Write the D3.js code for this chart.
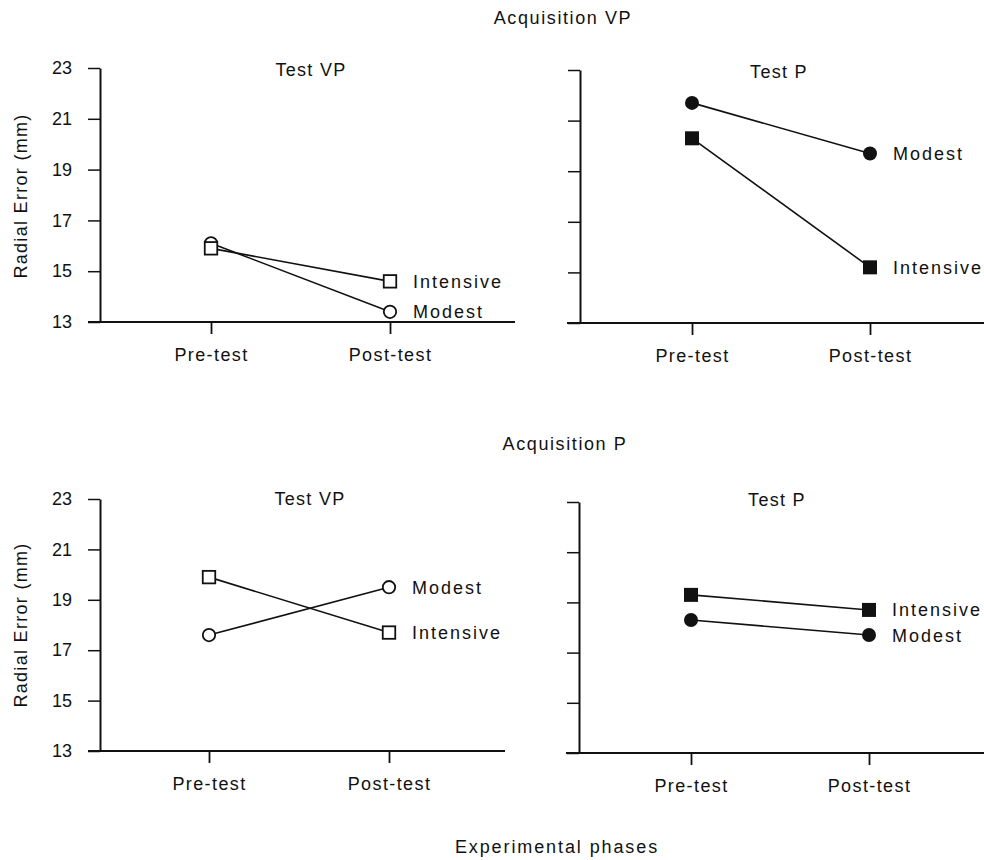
<!DOCTYPE html>
<html>
<head>
<meta charset="utf-8">
<script src="https://cdn.jsdelivr.net/npm/d3@7"></script>
<style>
  html, body { margin: 0; padding: 0; background: #fff; }
  svg { display: block; }
  text { font-family: "Liberation Sans", Arial, Helvetica, sans-serif; fill: #111; }
</style>
</head>
<body>
<svg id="chart" width="984" height="860"></svg>
<script>
// ---- data ----
const phases = ["Pre-test", "Post-test"];
const yTickValues = [13, 15, 17, 19, 21, 23];
const seriesNames = ["Intensive", "Modest"];
const rowTitles = ["Acquisition VP", "Acquisition P"];
const panelTitles = ["Test VP", "Test P"];

const acqVP_testVP_intensive = [15.9, 14.6];
const acqVP_testVP_modest    = [16.1, 13.4];
const acqVP_testP_intensive  = [20.3, 15.2];
const acqVP_testP_modest     = [21.7, 19.7];
const acqP_testVP_intensive  = [19.9, 17.7];
const acqP_testVP_modest     = [17.6, 19.5];
const acqP_testP_intensive   = [19.3, 18.7];
const acqP_testP_modest      = [18.3, 17.7];

const yLabel = "Radial Error (mm)";
const xLabel = "Experimental phases";

// ---- layout ----
const svg = d3.select("#chart");
const panels = [
  { title: panelTitles[0], ax: 100, top: 68, bot: 322, pre: 211, post: 390, xl: 88, xr: 515, showY: true, filled: false,
    intensive: acqVP_testVP_intensive, modest: acqVP_testVP_modest, titleX: 311, titleY: 76 },
  { title: panelTitles[1], ax: 580, top: 70, bot: 323, pre: 692, post: 870, xl: 567, xr: 984, showY: false, filled: true,
    intensive: acqVP_testP_intensive, modest: acqVP_testP_modest, titleX: 779, titleY: 78 },
  { title: panelTitles[0], ax: 100, top: 499, bot: 751, pre: 209, post: 389, xl: 88, xr: 505, showY: true, filled: false,
    intensive: acqP_testVP_intensive, modest: acqP_testVP_modest, titleX: 310, titleY: 505 },
  { title: panelTitles[1], ax: 579, top: 502, bot: 753, pre: 691, post: 869, xl: 566, xr: 984, showY: false, filled: true,
    intensive: acqP_testP_intensive, modest: acqP_testP_modest, titleX: 777, titleY: 506 }
];

panels.forEach(p => {
  const g = svg.append("g");
  const y = d3.scaleLinear().domain([13, 23]).range([p.bot, p.top]);
  const x = d3.scalePoint().domain(phases).range([p.pre, p.post]).padding(0);

  // y axis
  const yAxis = d3.axisLeft(y).tickValues(yTickValues).tickSize(12).tickSizeOuter(0).tickPadding(16);
  const gy = g.append("g").attr("transform", `translate(${p.ax},0)`).call(yAxis);
  gy.select(".domain").attr("stroke", "#111").attr("stroke-width", 2);
  gy.selectAll(".tick line").attr("stroke", "#111").attr("stroke-width", 1.5);
  gy.selectAll(".tick text")
    .style("font-size", "18px")
    .style("font-family", "'Liberation Sans', Arial, sans-serif")
    .attr("fill", "#111")
    .style("display", p.showY ? null : "none");

  // x axis line
  g.append("line").attr("x1", p.xl).attr("x2", p.xr).attr("y1", p.bot).attr("y2", p.bot)
    .attr("stroke", "#111").attr("stroke-width", 2);
  const xAxis = d3.axisBottom(x).tickSize(12).tickSizeOuter(0).tickPadding(14);
  const gx = g.append("g").attr("transform", `translate(0,${p.bot})`).call(xAxis);
  gx.select(".domain").remove();
  gx.selectAll(".tick line").attr("stroke", "#111").attr("stroke-width", 1.8);
  gx.selectAll(".tick text")
    .style("font-size", "18px")
    .style("letter-spacing", "1.4px")
    .style("font-family", "'Liberation Sans', Arial, sans-serif")
    .attr("fill", "#111");

  // panel title
  g.append("text").attr("x", p.titleX).attr("y", p.titleY).attr("text-anchor", "middle")
    .style("font-size", "18px").style("letter-spacing", "1.3px").text(p.title);

  const line = d3.line().x((d, i) => x(phases[i])).y(d => y(d));

  // lines
  [p.modest, p.intensive].forEach(vals => {
    g.append("path").datum(vals).attr("d", line)
      .attr("fill", "none").attr("stroke", "#111").attr("stroke-width", 1.6);
  });

  const fill = p.filled ? "#111" : "#fff";
  // modest: circles
  g.selectAll(".mod").data(p.modest).enter().append("circle")
    .attr("cx", (d, i) => x(phases[i])).attr("cy", d => y(d))
    .attr("r", p.filled ? 7 : 6.2)
    .attr("fill", fill).attr("stroke", "#111").attr("stroke-width", p.filled ? 0 : 1.8);
  // intensive: squares
  const s = p.filled ? 14 : 12.5;
  g.selectAll(".int").data(p.intensive).enter().append("rect")
    .attr("x", (d, i) => x(phases[i]) - s / 2).attr("y", d => y(d) - s / 2)
    .attr("width", s).attr("height", s)
    .attr("fill", fill).attr("stroke", "#111").attr("stroke-width", p.filled ? 0 : 1.8);

  // series labels at post-test end
  [[seriesNames[0], p.intensive[1]], [seriesNames[1], p.modest[1]]].forEach(([name, v]) => {
    g.append("text").attr("x", x(phases[1]) + 23).attr("y", y(v)).attr("dy", "0.36em")
      .style("font-size", "18px").style("letter-spacing", "2px").text(name);
  });
});

// row titles
svg.append("text").attr("x", 563).attr("y", 24).attr("text-anchor", "middle")
  .style("font-size", "18px").style("letter-spacing", "1.6px").text(rowTitles[0]);
svg.append("text").attr("x", 565).attr("y", 450).attr("text-anchor", "middle")
  .style("font-size", "18px").style("letter-spacing", "1.6px").text(rowTitles[1]);

// y axis titles
[196, 625].forEach(cy => {
  svg.append("text").attr("transform", `translate(27,${cy}) rotate(-90)`).attr("text-anchor", "middle")
    .style("font-size", "18px").style("letter-spacing", "1.3px").text(yLabel);
});

// x axis title
svg.append("text").attr("x", 557).attr("y", 853).attr("text-anchor", "middle")
  .style("font-size", "18px").style("letter-spacing", "1.9px").text(xLabel);
</script>
</body>
</html>
